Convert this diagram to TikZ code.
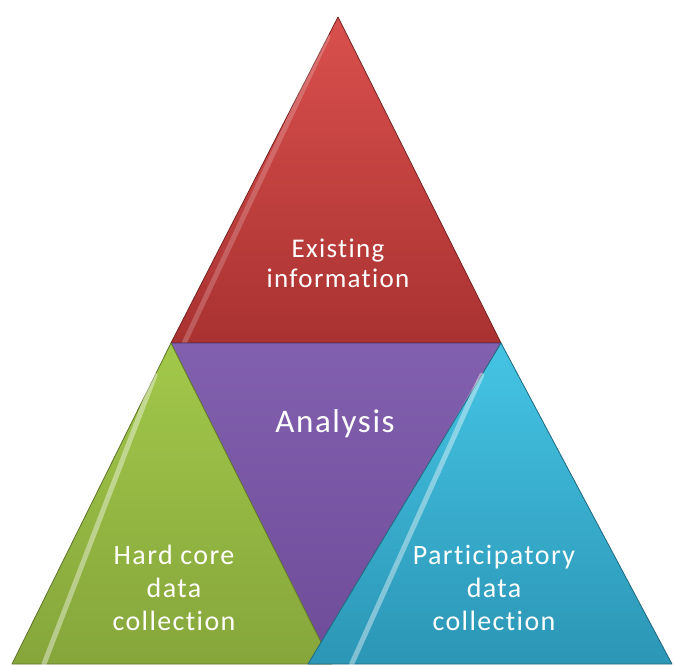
\documentclass[tikz,border=0pt]{standalone}
\usepackage{fontspec}
\setmainfont{Carlito}[LetterSpace=5, Ligatures=NoCommon]
\usetikzlibrary{calc}

\definecolor{redtop}{HTML}{D9504E}
\definecolor{redbot}{HTML}{A93231}
\definecolor{purtop}{HTML}{8160AF}
\definecolor{purbot}{HTML}{6F4C9A}
\definecolor{grntop}{HTML}{A2C84A}
\definecolor{grnbot}{HTML}{86A63B}
\definecolor{blutop}{HTML}{45C4E4}
\definecolor{blubot}{HTML}{2C96B6}

\tikzstyle{tri} = [draw=black!45, line width=0.8pt, line join=round]
\tikzstyle{bevel} = [draw=white, line width=5pt, opacity=0.2, line join=round, line cap=round]
\tikzstyle{label} = [text=white, align=center, inner sep=0pt, font=\fontsize{28}{33}\selectfont]

\begin{document}
\begin{tikzpicture}[x=1pt, y=-1pt]
    \useasboundingbox (0, 0) rectangle (674, 664);

    % Corners.
    \coordinate (top) at (338, 17);
    \coordinate (left mid) at (171, 343);
    \coordinate (right mid) at (501, 343);
    \coordinate (centre low) at (318, 664);
    \coordinate (green left) at (12, 664);
    \coordinate (green right) at (332, 664);
    \coordinate (blue left) at (308, 664);
    \coordinate (blue right) at (672, 664);

    % Triangles.
    \draw [tri, draw=redbot!70!black, top color=redtop, bottom color=redbot]
        (top) -- (left mid) -- (right mid) -- cycle;
    \draw [bevel] ($(top)!0.06!(left mid)$) -- ($(left mid)!0.04!(right mid)$);

    \draw [tri, draw=purbot!70!black, top color=purtop, bottom color=purbot]
        (left mid) -- (right mid) -- (centre low) -- cycle;
    \draw [bevel, opacity=0.3] ($(right mid)!0.12!(centre low)$) -- ($(right mid)!0.3!(centre low)$);

    \draw [tri, draw=grnbot!70!black, top color=grntop, bottom color=grnbot]
        (left mid) -- (green left) -- (green right) -- cycle;
    \draw [bevel, opacity=0.4] ($(left mid)!0.1!(green left)$) -- ($(green left)!0.1!(green right)$);

    \draw [tri, draw=blubot!70!black, top color=blutop, bottom color=blubot]
        (right mid) -- (blue left) -- (blue right) -- cycle;
    \draw [bevel, opacity=0.4] ($(right mid)!0.1!(blue left)$) -- ($(blue left)!0.12!(blue right)$);

    % Labels.
    \node (existing) [label, font=\fontsize{27}{30}\selectfont] at (338, 263) {Existing\\information};
    \node (analysis) [label, font=\fontsize{33}{36}\selectfont] at (335, 424) {Analysis};
    \node (hard core) [label] at (174, 588) {Hard core\\data\\collection};
    \node (participatory) [label] at (494, 588) {Participatory\\data\\collection};
\end{tikzpicture}
\end{document}
